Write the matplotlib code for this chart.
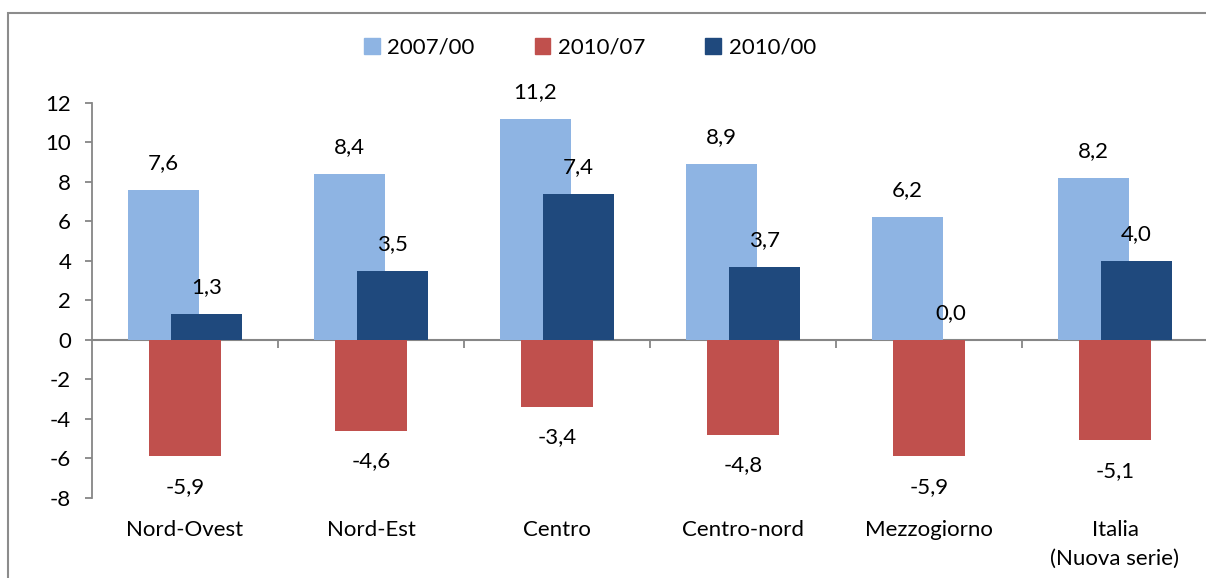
import matplotlib.pyplot as plt
import matplotlib.patches as mpatches
import numpy as np

plt.rcParams['font.family'] = ['Lato', 'DejaVu Sans']

categories = ["Nord-Ovest", "Nord-Est", "Centro", "Centro-nord", "Mezzogiorno", "Italia\n(Nuova serie)"]
series_names = ["2007/00", "2010/07", "2010/00"]
v_2007_00 = [7.6, 8.4, 11.2, 8.9, 6.2, 8.2]
v_2010_07 = [-5.9, -4.6, -3.4, -4.8, -5.9, -5.1]
v_2010_00 = [1.3, 3.5, 7.4, 3.7, 0.0, 4.0]

colors = ["#8EB4E3", "#C0504D", "#1F497D"]
gray = "#868686"
fs = 16

fig = plt.figure(figsize=(12.06, 5.78), dpi=100)
ax = fig.add_axes([92 / 1206, 1 - 497.7 / 578, (1208 - 92) / 1206, (497.7 - 103) / 578])

x = np.arange(len(categories))
width = 0.387
offset = 0.1156

values = [v_2007_00, v_2010_07, v_2010_00]
for i, (name, vals, col) in enumerate(zip(series_names, values, colors)):
    pos = x + (i - 1) * offset
    bars = ax.bar(pos, vals, width, color=col, label=name, zorder=2 + i)
    for xp, v in zip(pos, vals):
        txt = f"{v:.1f}".replace(".", ",")
        dy = 19.5 if v >= 0 else -22
        ax.annotate(txt, (xp, v), xytext=(0, dy), textcoords="offset points",
                    ha="center", va="center", fontsize=fs, color="black")

ax.set_xlim(-0.5, len(categories) - 0.5)
ax.set_ylim(-8, 12)
ax.set_yticks(np.arange(-8, 13, 2))
ax.set_yticklabels([str(t) for t in range(-8, 13, 2)])

for s in ["top", "right", "bottom"]:
    ax.spines[s].set_visible(False)
ax.spines["left"].set_color(gray)
ax.spines["left"].set_linewidth(1.3)
ax.tick_params(axis="y", direction="out", length=5, width=1.3, color=gray,
               labelsize=fs, pad=10)

ax.set_xticks(x)
ax.set_xticklabels(categories)
ax.tick_params(axis="x", length=0, labelsize=fs, pad=16)
for t in ax.get_xticklabels():
    t.set_linespacing(1.55)

# zero line with category separators
sec = ax.secondary_xaxis(8 / 20)
sec.set_xticks(np.arange(0.5, len(categories) - 0.5, 1))
sec.tick_params(axis="x", direction="out", length=6, width=1.3, color=gray, labelbottom=False)
sec.spines["bottom"].set_color(gray)
sec.spines["bottom"].set_linewidth(1.5)
sec.spines["bottom"].set_zorder(10)

handles = [mpatches.Patch(color=c) for c in colors]
fig.legend(handles, series_names, loc="center", bbox_to_anchor=(590 / 1206, 1 - 48 / 578),
           ncol=3, frameon=False, fontsize=fs, handlelength=0.7, handleheight=0.7,
           handletextpad=0.35, columnspacing=2.7)

frame = mpatches.Rectangle((8 / 1206, -0.1), 1.2, 1 - 13 / 578 + 0.1, transform=fig.transFigure,
                           fill=False, edgecolor="#8C8C8C", linewidth=1.5)
fig.patches.append(frame)

fig.savefig("out.png", dpi=100)
plt.close(fig)
